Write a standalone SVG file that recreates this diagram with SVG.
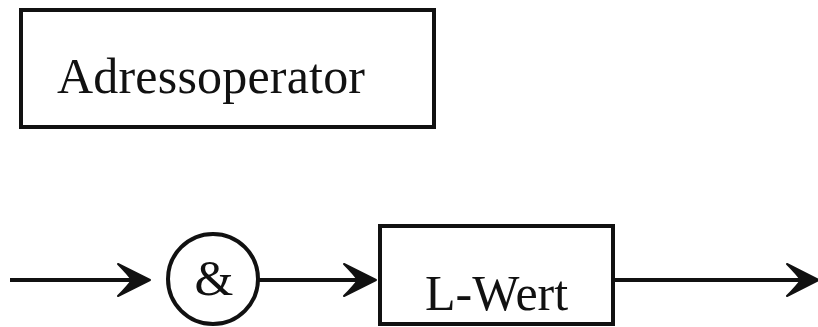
<svg xmlns="http://www.w3.org/2000/svg" width="818" height="327" viewBox="0 0 818 327">
<defs>
<style>
.box{fill:#fff;stroke:#111;stroke-width:4}
.line{fill:none;stroke:#111;stroke-width:4}
.lbl{font-family:"Liberation Serif","Times New Roman",serif;font-size:50px;fill:#111}
.head{fill:#111;stroke:#111;stroke-width:2;stroke-linejoin:round}
</style>
<path id="ah" class="head" d="M0,0 L-32,-16 Q-22,-6 -18,0 Q-22,6 -32,16 Z"/>
</defs>
<rect width="818" height="327" fill="#fff"/>
<g id="node-adressoperator">
<rect class="box" x="21" y="10" width="413" height="117"/>
<text class="lbl" x="57" y="93" textLength="308">Adressoperator</text>
</g>
<g id="node-amp">
<circle class="box" cx="213" cy="279" r="45"/>
<text class="lbl" x="214" y="295" text-anchor="middle">&amp;</text>
</g>
<g id="node-lwert">
<rect class="box" x="380" y="226" width="233" height="98"/>
<text class="lbl" x="425" y="310">L-Wert</text>
</g>
<g id="connectors">
<line class="line" x1="10" y1="280" x2="140" y2="280"/>
<use href="#ah" x="150" y="280"/>
<line class="line" x1="258" y1="280" x2="365" y2="280"/>
<use href="#ah" x="376" y="280"/>
<line class="line" x1="613" y1="280" x2="808" y2="280"/>
<use href="#ah" x="819" y="280"/>
</g>
</svg>
